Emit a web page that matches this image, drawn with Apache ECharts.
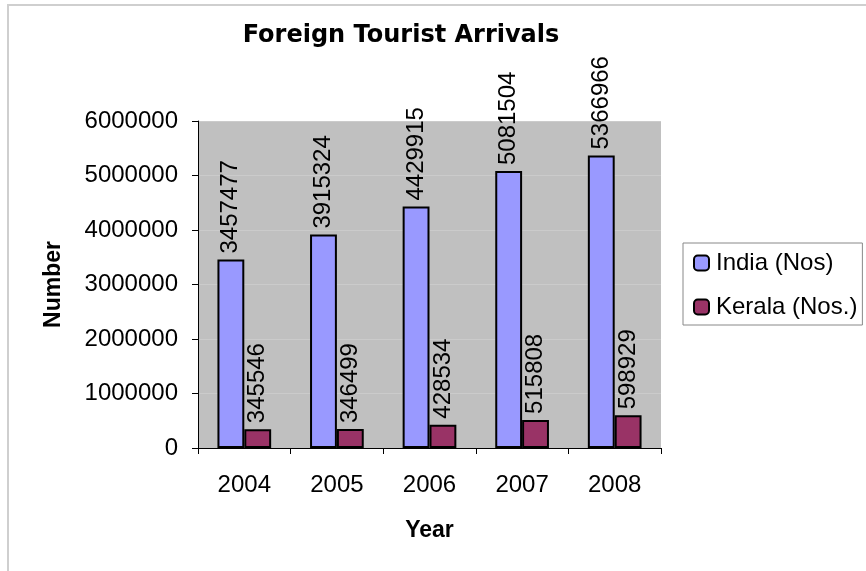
<!DOCTYPE html>
<html>
<head>
<meta charset="utf-8">
<script src="https://cdn.jsdelivr.net/npm/echarts@6/dist/echarts.min.js"></script>
<style>html,body{margin:0;padding:0;background:#fff;}#c{width:866px;height:571px;}</style>
</head>
<body>
<div id="c"></div>
<script>
const years = ['2004', '2005', '2006', '2007', '2008'];
const india = [3457477, 3915324, 4429915, 5081504, 5366966];
const kerala = [345546, 346499, 428534, 515808, 598929];
const seriesNames = ['India (Nos)', 'Kerala (Nos.)'];

const chart = echarts.init(document.getElementById('c'));
const font = 'Liberation Sans, Arial, sans-serif';
const labelCfg = {
  show: true, position: 'top', rotate: 90, align: 'left', verticalAlign: 'middle',
  distance: 6, fontFamily: font, fontSize: 24, color: '#000'
};
chart.setOption({
  backgroundColor: '#fff',
  animation: false,
  graphic: [{
    type: 'rect', shape: {x: 8, y: 5, width: 870, height: 580},
    style: {fill: 'none', stroke: '#cfcfcf', lineWidth: 2}, silent: true, z: -1
  }],
  title: {
    text: 'Foreign Tourist Arrivals', left: 396, top: 19, textAlign: 'center',
    textStyle: {fontFamily: 'DejaVu Sans', fontSize: 24, fontWeight: 'bold', color: '#000'}
  },
  legend: {
    orient: 'vertical', left: 683, top: 243,
    padding: [8, 5, 6, 10], itemGap: 20, itemWidth: 15, itemHeight: 15,
    borderColor: '#888', borderWidth: 1, backgroundColor: '#fff',
    textStyle: {fontFamily: font, fontSize: 24, color: '#000', padding: [0, 0, 0, 2]},
    data: seriesNames
  },
  grid: {
    left: 198, right: 205, top: 121, bottom: 123, show: true,
    backgroundColor: '#c0c0c0', borderWidth: 0
  },
  xAxis: {
    type: 'category', data: years,
    name: 'Year', nameLocation: 'middle', nameGap: 71,
    nameTextStyle: {fontFamily: font, fontSize: 23, fontWeight: 'bold', color: '#000'},
    axisLine: {lineStyle: {color: '#000', width: 1}},
    axisTick: {show: true, length: 6, lineStyle: {color: '#000'}},
    axisLabel: {fontFamily: font, fontSize: 24, color: '#000', margin: 25}
  },
  yAxis: {
    type: 'value', min: 0, max: 6000000, interval: 1000000,
    name: 'Number', nameLocation: 'middle', nameGap: 133, nameRotate: 90,
    nameTextStyle: {fontFamily: font, fontSize: 23, fontWeight: 'bold', color: '#000'},
    axisLine: {show: true, lineStyle: {color: '#000', width: 1}},
    axisTick: {show: true, length: 6, lineStyle: {color: '#000'}},
    axisLabel: {fontFamily: font, fontSize: 24, color: '#000', margin: 20, formatter: v => String(v)},
    splitLine: {show: true, lineStyle: {color: '#cbcbcb', width: 1}}
  },
  series: [
    {
      name: seriesNames[0], type: 'bar', data: india, barGap: '0%', barCategoryGap: '42%',
      itemStyle: {color: '#9999FF', borderColor: '#000', borderWidth: 2},
      label: labelCfg
    },
    {
      name: seriesNames[1], type: 'bar', data: kerala, barGap: '0%', barCategoryGap: '42%',
      itemStyle: {color: '#993366', borderColor: '#000', borderWidth: 2},
      label: labelCfg
    }
  ]
});
</script>
</body>
</html>
